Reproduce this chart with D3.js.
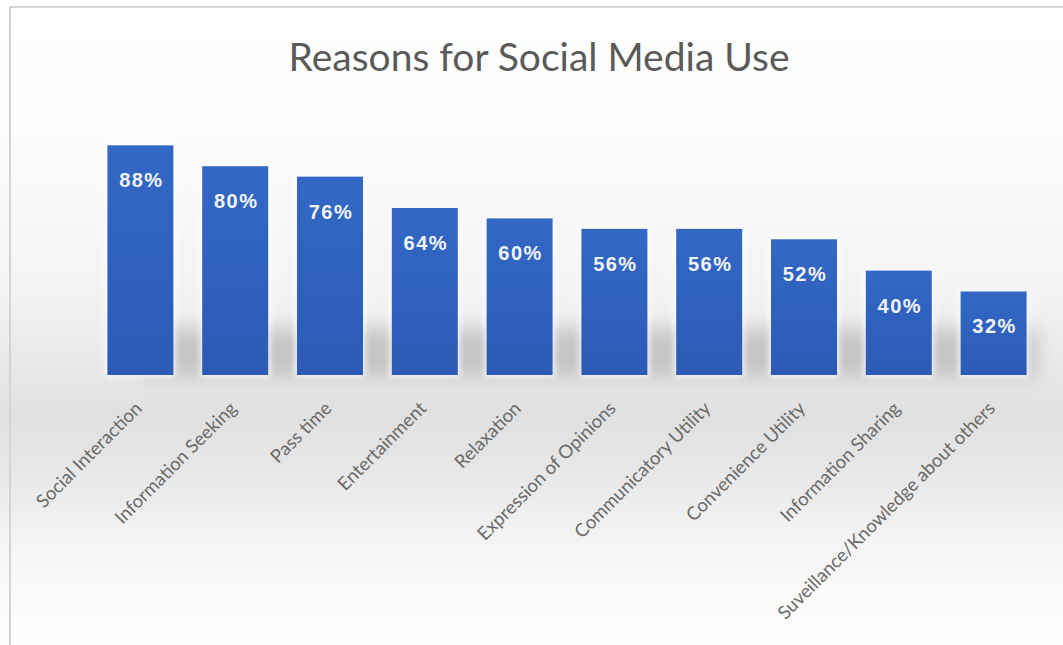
<!DOCTYPE html>
<html>
<head>
<meta charset="utf-8">
<script src="https://cdn.jsdelivr.net/npm/d3@7"></script>
<style>
  body { margin: 0; background: #ffffff; }
  svg { display: block; }
</style>
</head>
<body>
<div class="Chart"></div>
<script>
// chart data
var categories = ["Social Interaction", "Information Seeking", "Pass time", "Entertainment",
                  "Relaxation", "Expression of Opinions", "Communicatory Utility",
                  "Convenience Utility", "Information Sharing", "Suveillance/Knowledge about others"];
var values = [88, 80, 76, 64, 60, 56, 56, 52, 40, 32];
var title = "Reasons for Social Media Use";

var width = 1063;
var height = 645;

var svg = d3.select(".Chart")
            .append("svg")
            .attr("width", width)
            .attr("height", height);

var defs = svg.append("defs");

// background gradient (light gray band under the bars)
var bg = defs.append("linearGradient")
             .attr("id", "bgGrad")
             .attr("x1", 0).attr("y1", 0).attr("x2", 0).attr("y2", 1);
[[0, "#ffffff"], [0.2, "#fcfcfc"], [0.45, "#f3f3f3"], [0.57, "#e8e8e8"],
 [0.64, "#e0e0e0"], [0.72, "#e6e6e6"], [0.82, "#f2f2f2"], [0.92, "#fafafa"], [1, "#fefefe"]]
  .forEach(function(s){
    bg.append("stop").attr("offset", s[0]).attr("stop-color", s[1]);
  });

var barGrad = defs.append("linearGradient")
                  .attr("id", "barGrad")
                  .attr("x1", 0).attr("y1", 0).attr("x2", 0).attr("y2", 1);
barGrad.append("stop").attr("offset", 0).attr("stop-color", "#3368c6");
barGrad.append("stop").attr("offset", 1).attr("stop-color", "#2b5bb5");

defs.append("filter").attr("id", "blur")
    .attr("x", -0.2).attr("y", -1).attr("width", 1.4).attr("height", 3)
    .append("feGaussianBlur").attr("stdDeviation", 9);

defs.append("filter").attr("id", "glow")
    .attr("x", -0.3).attr("y", -0.3).attr("width", 1.6).attr("height", 1.6)
    .append("feGaussianBlur").attr("stdDeviation", 3);

svg.append("rect")
   .attr("x", 0).attr("y", 0)
   .attr("width", width).attr("height", height)
   .attr("fill", "url(#bgGrad)");

// frame
svg.append("path")
   .attr("d", "M10," + height + "V7H" + width)
   .attr("fill", "none")
   .attr("stroke", "#d4d4d4")
   .attr("stroke-width", 2);

// scales
var x = d3.scaleBand()
          .domain(categories)
          .range([93, 1041])
          .paddingInner(0.304)
          .paddingOuter(0.152);

var y = d3.scaleLinear()
          .domain([0, 100])
          .range([375, 114]);

// shadow band behind the bars
svg.append("rect")
   .attr("x", x(categories[0]) + x.bandwidth() / 2)
   .attr("y", y(18))
   .attr("width", x(categories[categories.length - 1]) + x.bandwidth() + 10 - x(categories[0]) - x.bandwidth() / 2)
   .attr("height", y(0) - y(18) + 2)
   .attr("fill", "#a8a8a8")
   .attr("opacity", 0.55)
   .attr("filter", "url(#blur)");

// title
svg.append("text")
   .attr("x", 539)
   .attr("y", 71)
   .attr("text-anchor", "middle")
   .attr("font-family", "Lato, 'Open Sans', sans-serif")
   .attr("font-size", 39)
   .attr("fill", "#5a5a5a")
   .text(title);

var bars = svg.append("g").attr("class", "bars")
              .selectAll("g")
              .data(values)
              .enter().append("g");

// soft halo round each bar
bars.append("rect")
    .attr("x", function(d, i){ return x(categories[i]) - 2; })
    .attr("y", function(d){ return y(d) - 2; })
    .attr("width", x.bandwidth() + 4)
    .attr("height", function(d){ return y(0) - y(d) + 4; })
    .attr("fill", "#ffffff")
    .attr("opacity", 0.8)
    .attr("filter", "url(#glow)");

bars.append("rect")
    .attr("x", function(d, i){ return x(categories[i]); })
    .attr("y", function(d){ return y(d); })
    .attr("width", x.bandwidth())
    .attr("height", function(d){ return y(0) - y(d); })
    .attr("fill", "url(#barGrad)");

bars.append("text")
    .attr("x", function(d, i){ return x(categories[i]) + x.bandwidth() / 2 + 1; })
    .attr("y", function(d){ return y(d) + 42; })
    .attr("text-anchor", "middle")
    .attr("font-family", "'Liberation Sans', Arial, sans-serif")
    .attr("font-weight", "bold")
    .attr("font-size", 20)
    .attr("letter-spacing", 1.5)
    .attr("fill", "#f2f4fa")
    .text(function(d){ return d + "%"; });

// rotated category labels
svg.append("g").attr("class", "labels")
   .selectAll("text")
   .data(categories)
   .enter().append("text")
   .attr("transform", function(d){
      return "translate(" + (x(d) + x.bandwidth() / 2 - 2) + "," + 405 + ") rotate(-45)";
   })
   .attr("text-anchor", "end")
   .attr("dy", "0.35em")
   .attr("font-family", "Lato, 'Open Sans', sans-serif")
   .attr("font-size", 18.5)
   .attr("fill", "#6a6a6a")
   .text(function(d){ return d; });
</script>
</body>
</html>
